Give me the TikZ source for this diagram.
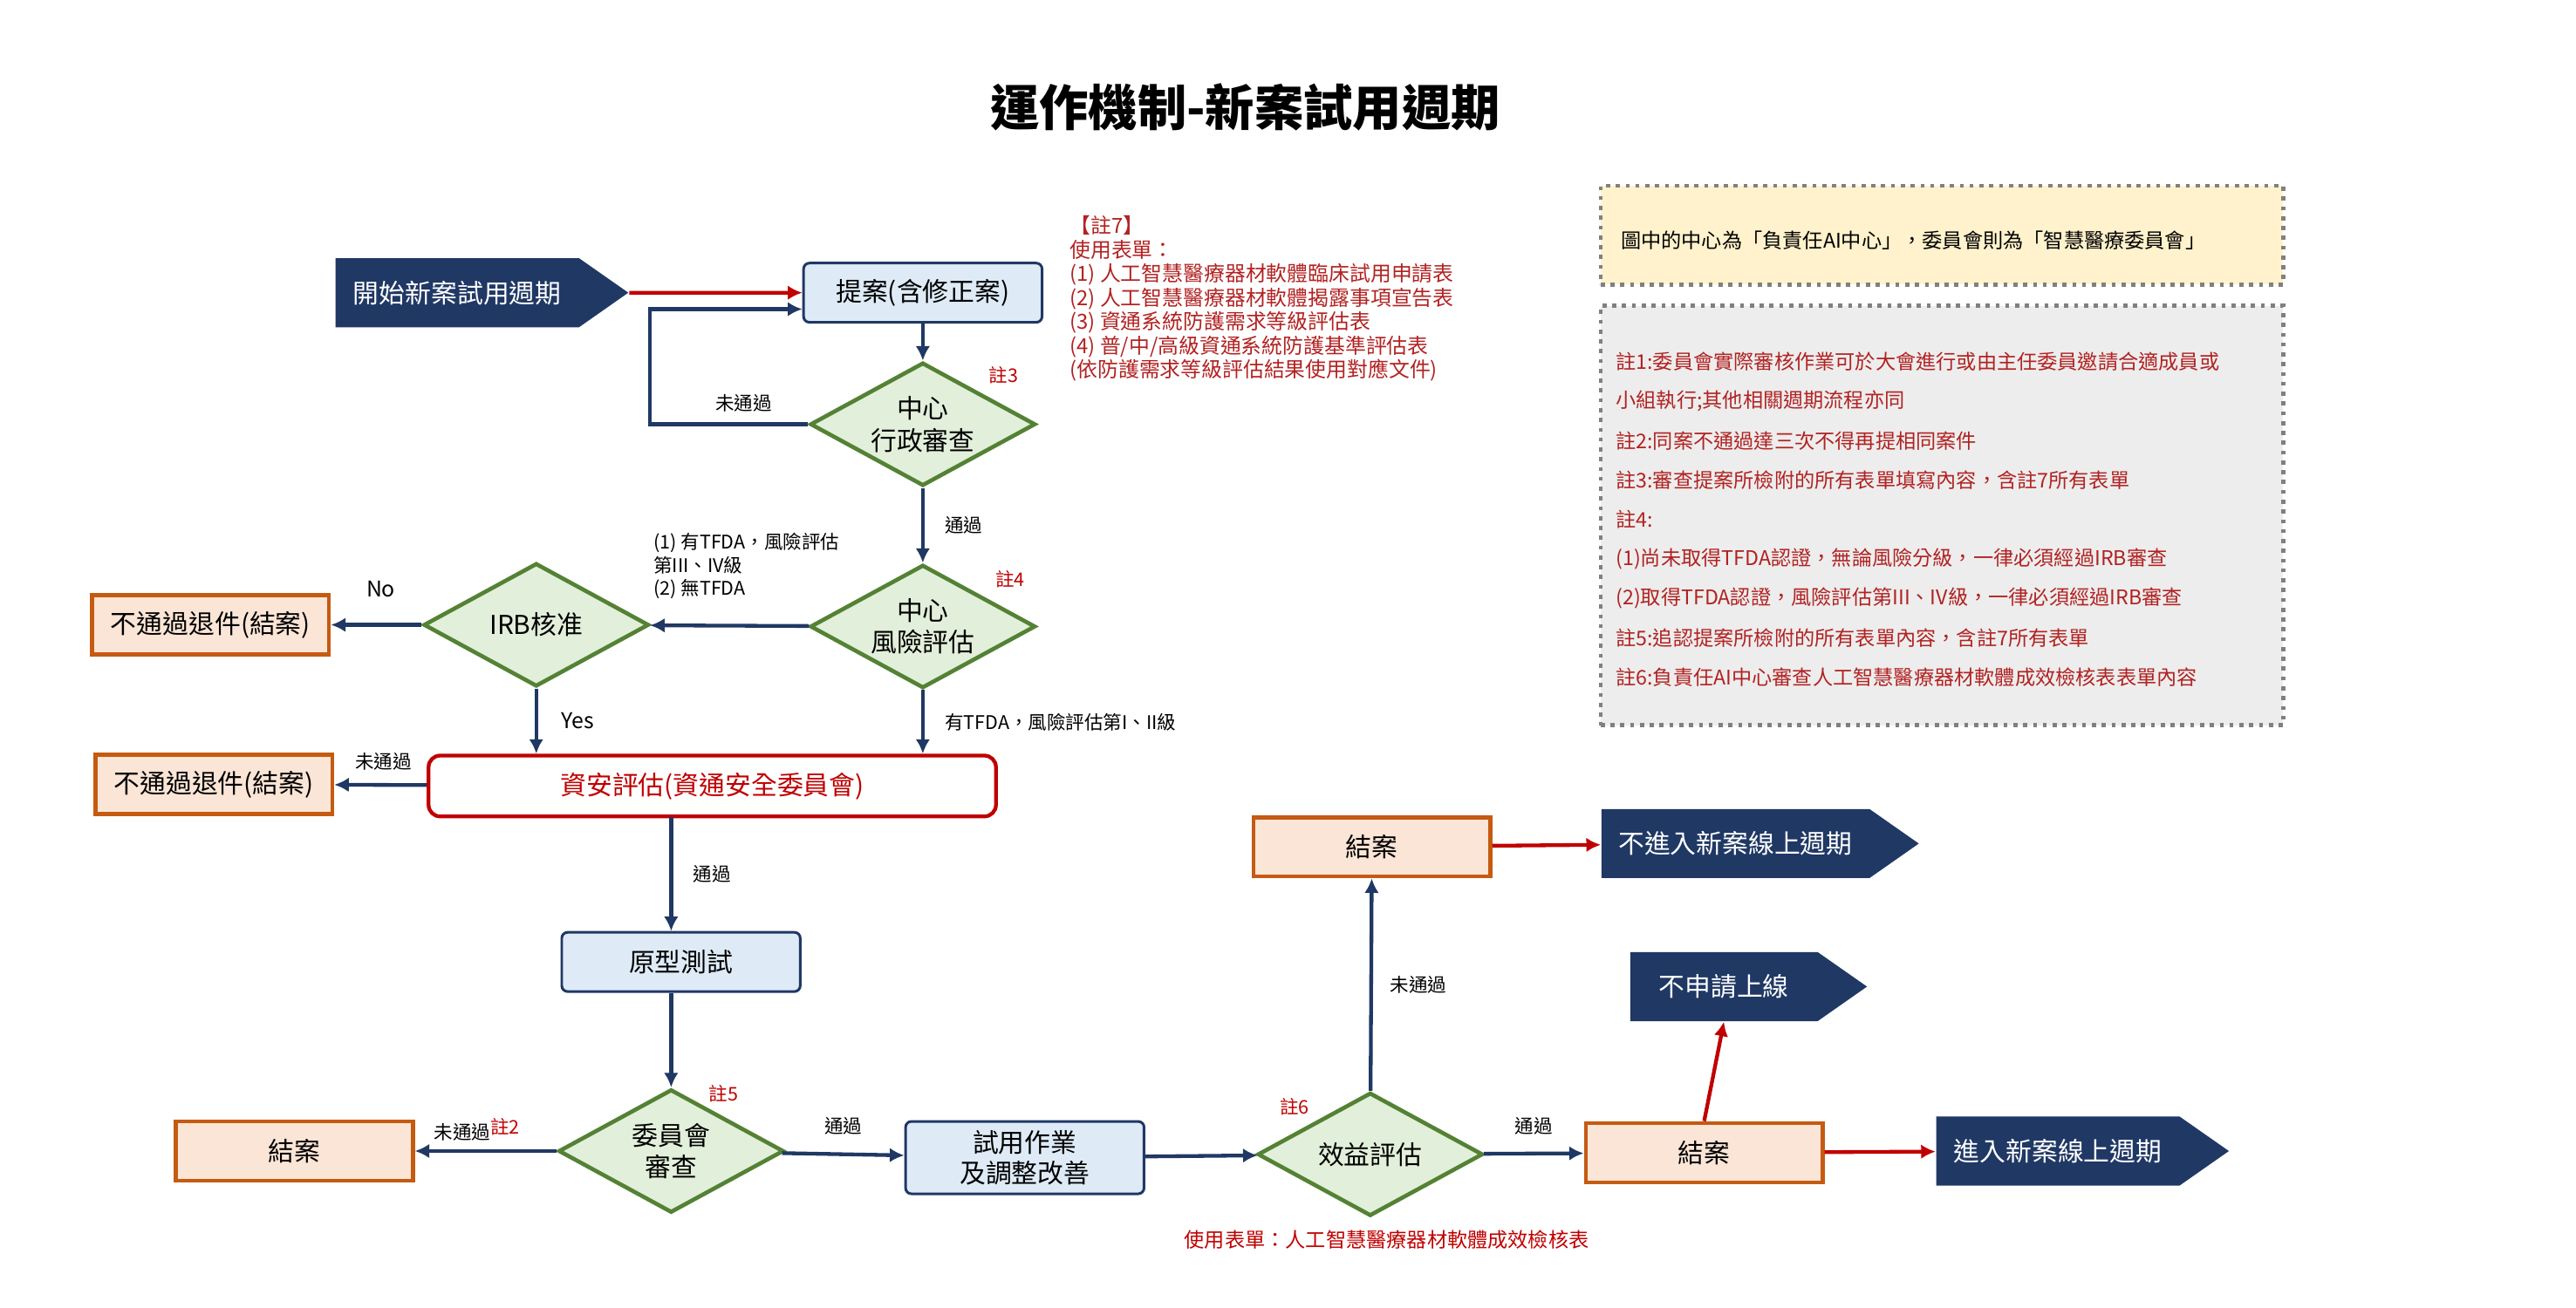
\documentclass[tikz,border=0pt]{standalone}
\usepackage{fontspec}
\setmainfont{Noto Sans CJK TC}
\usetikzlibrary{shapes.geometric,shapes.symbols,arrows.meta}
\definecolor{navy}{HTML}{203864}
\definecolor{boxblue}{HTML}{DEEBF7}
\definecolor{dgreen}{HTML}{548235}
\definecolor{lgreen}{HTML}{E2EFDA}
\definecolor{orng}{HTML}{C55A11}
\definecolor{peach}{HTML}{FBE5D6}
\definecolor{dred}{HTML}{C00000}
\definecolor{nred}{HTML}{B22222}
\definecolor{ylw}{HTML}{FFF2CC}
\begin{document}
\begin{tikzpicture}[x=0.02cm,y=-0.02cm,
  every node/.style={inner sep=0pt},
  blue box/.style={draw=navy,fill=boxblue,rounded corners=2pt,line width=0.9pt,minimum width=2.9cm,minimum height=0.72cm,font=\fontsize{9}{11}\selectfont,align=center},
  end box/.style={draw=orng,fill=peach,line width=1.4pt,minimum width=2.88cm,minimum height=0.72cm,font=\fontsize{9}{11}\selectfont},
  dia/.style={diamond,draw=dgreen,fill=lgreen,line width=1.4pt,minimum width=2.74cm,minimum height=1.5cm,aspect=1.85,font=\fontsize{9}{11}\selectfont,align=center},
  sig/.style={signal,signal to=east,signal pointer angle=70,fill=navy,text=white,font=\fontsize{9}{11}\selectfont,minimum height=0.84cm,inner xsep=4pt},
  arr/.style={-{Latex[length=5pt,width=5pt]},draw=navy,line width=1.3pt},
  rarr/.style={-{Latex[length=5pt,width=5pt]},draw=dred,line width=1.3pt},
  lbl/.style={font=\fontsize{6.5}{8}\selectfont},
  note/.style={font=\fontsize{6.5}{8}\selectfont,text=dred},
  ntext/.style={font=\fontsize{7}{8.5}\selectfont,text=nred,anchor=west}]
\useasboundingbox (0,0) rectangle (1566,795);
\node[font=\bfseries\fontsize{17}{20}\selectfont] (title) at (757,65) {運作機制-新案試用週期};
% top
\node[sig,minimum width=3.56cm] (start) at (278,178) {開始新案試用週期};
\node[blue box] (prop) at (561,178) {提案(含修正案)};
\node[dia] (d1) at (561,258) {中心\\行政審查};
\node[note] (n3) at (610,228) {註3};
\node[dia] (d2) at (561,381) {中心\\風險評估};
\node[note] (n4) at (614,352) {註4};
\node[dia] (irb) at (326,380) {IRB核准};
\node[end box] (rej1) at (128,380) {不通過退件(結案)};
\node[draw=dred,fill=white,rounded corners=4pt,line width=1.3pt,minimum width=6.9cm,minimum height=0.74cm,text=dred,font=\fontsize{9}{11}\selectfont] (sec) at (433,478) {資安評估(資通安全委員會)};
\node[end box] (rej2) at (130,477) {不通過退件(結案)};
\node[blue box] (proto) at (414,585) {原型測試};
\node[dia] (d3) at (408,700) {委員會\\審查};
\node[note] (n5) at (440,665) {註5};
\node[end box] (end1) at (179,700) {結案};
\node[blue box,minimum height=0.88cm,font=\fontsize{9}{10.5}\selectfont] (trial) at (623,704) {試用作業\\及調整改善};
\node[dia] (d4) at (833,702) {效益評估};
\node[note] (n6) at (787,673) {註6};
\node[end box] (end2) at (834,515) {結案};
\node[end box] (end3) at (1036,701) {結案};
\node[sig,minimum width=3.86cm] (s1) at (1055,513) {不進入新案線上週期};
\node[sig,minimum width=2.88cm] (s2) at (1048,600) {不申請上線};
\node[sig,minimum width=3.56cm] (s3) at (1251,700) {進入新案線上週期};
% connectors
\draw[rarr] (start) -- (prop);
\draw[arr] (prop) -- (d1);
\coordinate (l1) at (395,258);
\coordinate (l2) at (395,188);
\draw[arr] (d1.west) -- (l1) -- (l2) -- (prop.west |- l2);
\node[lbl] (t1) at (452,245) {未通過};
\draw[arr] (d1) -- (d2) node[lbl,midway,right=7pt] {通過};
\draw[arr] (d2) -- (irb);
\node[lbl,align=left,anchor=north west] (t2) at (397,324) {(1) 有TFDA，風險評估\\第III、IV級\\(2) 無TFDA};
\draw[arr] (irb) -- (rej1) node[lbl,pos=0.45,above=9pt,font=\fontsize{7.5}{9}\selectfont] {No};
\draw[arr] (irb.south) -- (irb.south |- sec.north) node[lbl,midway,right=8pt,font=\fontsize{7.5}{9}\selectfont] {Yes};
\draw[arr] (d2.south) -- (d2.south |- sec.north) node[lbl,midway,right=7pt] {有TFDA，風險評估第I、II級};
\draw[arr] (sec) -- (rej2);
\node[lbl] (t3) at (233,463) {未通過};
\coordinate (p1) at (408,497);
\draw[arr] (p1) -- (p1 |- proto.north) node[lbl,midway,right=7pt] {通過};
\coordinate (p2) at (408,604);
\draw[arr] (p2) -- (d3.north);
\draw[arr] (d3) -- (end1);
\node[lbl] (t4) at (290,687) {未通過\textcolor{dred}{\raisebox{2pt}{註2}}};
\draw[arr] (d3) -- (trial) node[lbl,midway,above=6pt] {通過};
\draw[arr] (trial) -- (d4);
\draw[arr] (d4) -- (end2) node[lbl,midway,right=6pt] {未通過};
\draw[arr] (d4) -- (end3) node[lbl,midway,above=6pt] {通過};
\draw[rarr] (end2) -- (s1);
\draw[rarr] (end3.north) -- (s2.south);
\draw[rarr] (end3) -- (s3);
\node[note,font=\fontsize{7}{8.5}\selectfont] (form) at (843,754) {使用表單：人工智慧醫療器材軟體成效檢核表};
% note 7
\node[ntext,anchor=north west,align=left,font=\fontsize{7.2}{8.3}\selectfont] (n7) at (650,131) {【註7】\\使用表單：\\(1) 人工智慧醫療器材軟體臨床試用申請表\\(2) 人工智慧醫療器材軟體揭露事項宣告表\\(3) 資通系統防護需求等級評估表\\(4) 普/中/高級資通系統防護基準評估表\\(依防護需求等級評估結果使用對應文件)};
% side boxes
\node[draw=gray,dotted,line width=1.4pt,fill=ylw,minimum width=8.3cm,minimum height=1.2cm] (yb) at (1180.5,143) {};
\node[anchor=west,font=\fontsize{7}{8.5}\selectfont] (ybt) at (985,146) {圖中的中心為「負責任AI中心」，委員會則為「智慧醫療委員會」};
\node[draw=gray,dotted,line width=1.4pt,fill=black!7,minimum width=8.3cm,minimum height=5.1cm] (gb) at (1180.5,313.5) {};
\node[ntext] at (982,220) {註1:委員會實際審核作業可於大會進行或由主任委員邀請合適成員或};
\node[ntext] at (982,244) {小組執行;其他相關週期流程亦同};
\node[ntext] at (982,268) {註2:同案不通過達三次不得再提相同案件};
\node[ntext] at (982,292) {註3:審查提案所檢附的所有表單填寫內容，含註7所有表單};
\node[ntext] at (982,316) {註4:};
\node[ntext] at (982,340) {(1)尚未取得TFDA認證，無論風險分級，一律必須經過IRB審查};
\node[ntext] at (982,364) {(2)取得TFDA認證，風險評估第III、IV級，一律必須經過IRB審查};
\node[ntext] at (982,388) {註5:追認提案所檢附的所有表單內容，含註7所有表單};
\node[ntext] at (982,412) {註6:負責任AI中心審查人工智慧醫療器材軟體成效檢核表表單內容};
\end{tikzpicture}
\end{document}
